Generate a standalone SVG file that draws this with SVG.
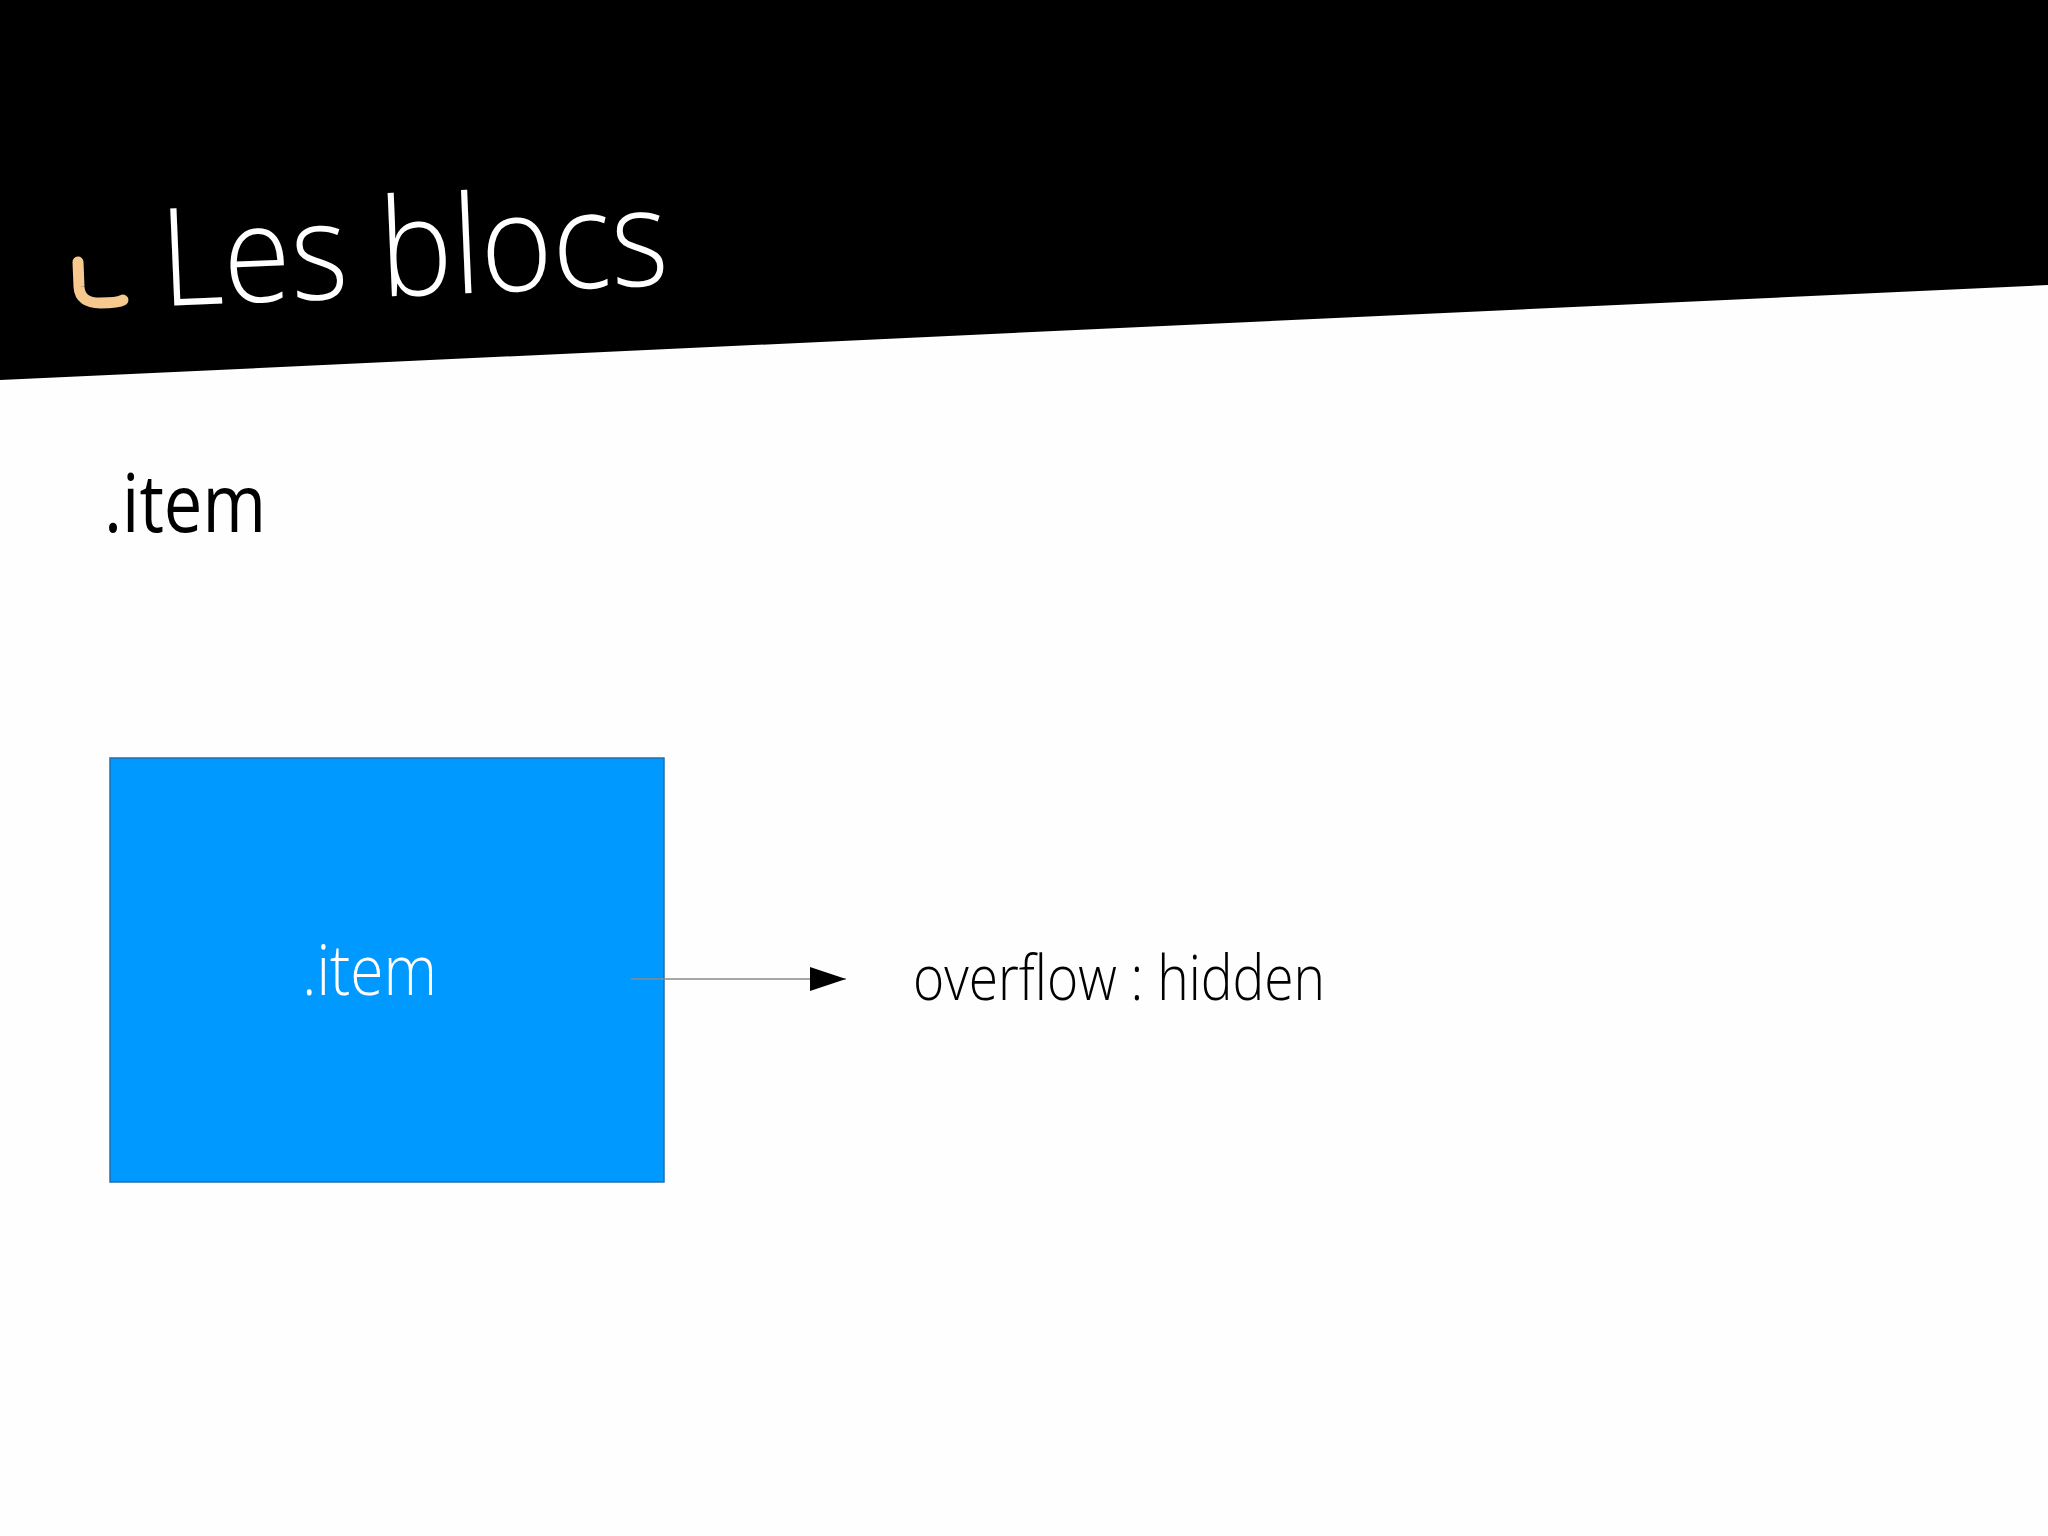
<svg xmlns="http://www.w3.org/2000/svg" width="2048" height="1536" viewBox="0 0 2048 1536">
  <defs>
    <style>
      .title { font-family: "Open Sans", Lato, "Liberation Sans", sans-serif; font-weight: 300; fill: #ffffff; }
      .heading { font-family: "Open Sans", "Liberation Sans", sans-serif; font-weight: 400; fill: #000000; }
      .light { font-family: "Open Sans", Lato, "Liberation Sans", sans-serif; font-weight: 300; }
    </style>
    <marker id="arrow" markerWidth="36" markerHeight="24" refX="36" refY="12" orient="auto" markerUnits="userSpaceOnUse">
      <path d="M0,0 L36,12 L0,24 Z" fill="#000000"/>
    </marker>
  </defs>
  <rect width="2048" height="1536" fill="#fefefe"/>
  <g id="header">
    <polygon points="0,0 2048,0 2048,285 0,380" fill="#000000"/>
    <path d="M78,262 L79,287 Q80,303 100,303 Q118,303 123,300" fill="none" stroke="#f8c98f" stroke-width="11" stroke-linecap="round"/>
    <text class="title" x="162" y="306" font-size="136" transform="rotate(-2.4 162 306)" textLength="508" lengthAdjust="spacingAndGlyphs">Les blocs</text>
  </g>
  <g id="heading">
    <text class="heading" x="104" y="532" font-size="80" textLength="162" lengthAdjust="spacingAndGlyphs">.item</text>
  </g>
  <g id="item-node">
    <rect x="110" y="758" width="554" height="424" fill="#0099ff" stroke="#1f6fae" stroke-width="1.5"/>
    <text class="light" x="302" y="995" font-size="70" fill="#ffffff" textLength="135" lengthAdjust="spacingAndGlyphs">.item</text>
  </g>
  <g id="overflow-label">
    <text class="light" x="913" y="1000" font-size="62" fill="#000000" textLength="412" lengthAdjust="spacingAndGlyphs">overflow : hidden</text>
  </g>
  <g id="connectors">
    <line x1="631" y1="979" x2="846" y2="979" stroke="#8a8a8a" stroke-width="1.5" marker-end="url(#arrow)"/>
  </g>
</svg>
